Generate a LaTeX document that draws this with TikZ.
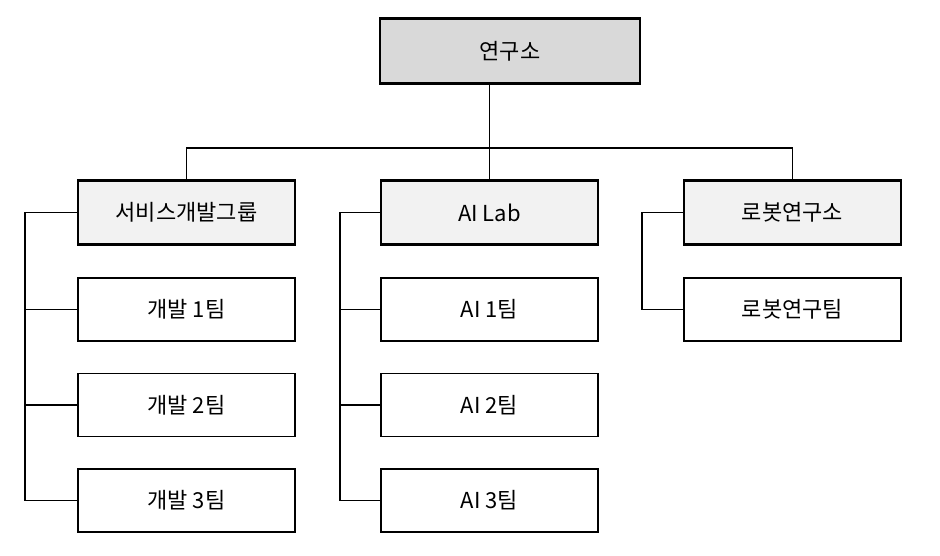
\documentclass[tikz,border=0pt]{standalone}
\usepackage{fontspec}
\setmainfont{Noto Sans CJK KR}
\usetikzlibrary{positioning,calc}

\begin{document}
\begin{tikzpicture}[x=1pt, y=-1pt,
    every node/.style={font=\fontsize{22}{26}\selectfont},
    head/.style={draw, line width=2.4pt, fill=black!15, minimum width=260pt, minimum height=65pt},
    group/.style={draw, line width=2.4pt, fill=black!5, minimum width=217pt, minimum height=64pt},
    team/.style={draw, line width=1.1pt, fill=white, minimum width=217pt, minimum height=63pt},
    link/.style={line width=1.1pt}]
    \useasboundingbox (0,0) rectangle (940,556);
            % top level
            \node[head] (lab) at (510,51) {연구소};
            % groups
            \node[group] (svc) at (186.5,212.5) {서비스개발그룹};
            \node[group] (ai) at (489.5,212.5) {AI Lab};
            \node[group] (robot) at (792.5,212.5) {로봇연구소};
            % teams
            \node[team] (dev1) at (186.5,309.5) {개발 1팀};
            \node[team] (dev2) at (186.5,405) {개발 2팀};
            \node[team] (dev3) at (186.5,500.5) {개발 3팀};
            \node[team] (ai1) at (489.5,309.5) {AI 1팀};
            \node[team] (ai2) at (489.5,405) {AI 2팀};
            \node[team] (ai3) at (489.5,500.5) {AI 3팀};
            \node[team] (rteam) at (792.5,309.5) {로봇연구팀};

            \coordinate (bar) at (489.5,148);
            \coordinate (svcrail) at (25,212.5);
            \coordinate (airail) at (340,212.5);
            \coordinate (robotrail) at (642,212.5);

            \draw[link] (lab.south -| ai) -- (ai.north);
            \draw[link] (svc.north) |- (bar) -| (robot.north);
            \draw[link] (svc.west) -- (svcrail) |- (dev3.west);
            \draw[link] (svcrail |- dev1) -- (dev1.west);
            \draw[link] (svcrail |- dev2) -- (dev2.west);
            \draw[link] (ai.west) -- (airail) |- (ai3.west);
            \draw[link] (airail |- ai1) -- (ai1.west);
            \draw[link] (airail |- ai2) -- (ai2.west);
            \draw[link] (robot.west) -- (robotrail) |- (rteam.west);
        \end{tikzpicture}
\end{document}
